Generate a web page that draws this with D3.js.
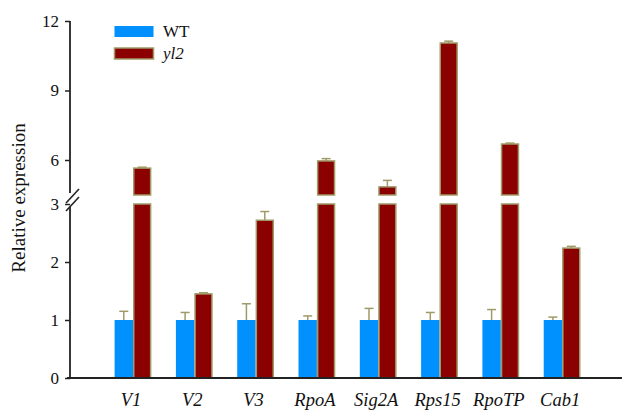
<!DOCTYPE html>
<html>
<head>
<meta charset="utf-8">
<script src="https://cdn.jsdelivr.net/npm/d3@7"></script>
<style>
  body { margin: 0; background: #fff; }
  text { font-family: "Liberation Serif", "Times New Roman", serif; fill: #111; }
</style>
</head>
<body>
<script>
// Gene names on the x axis
const genes = ["V1", "V2", "V3", "RpoA", "Sig2A", "Rps15", "RpoTP", "Cab1"];

// Mean relative expression and error (upper) for each line
const wtMean = [1, 1, 1, 1, 1, 1, 1, 1];
const wtErr = [0.15, 0.13, 0.28, 0.07, 0.20, 0.13, 0.18, 0.05];
const yl2Mean = [5.65, 1.45, 2.72, 5.96, 4.84, 11.05, 6.69, 2.24];
const yl2Err = [0.04, 0.02, 0.15, 0.10, 0.28, 0.08, 0.04, 0.03];

// Tick labels for the two parts of the broken axis
const lowTicks = [0, 1, 2, 3];
const highTicks = [6, 9, 12];

const series = ["WT", "yl2"];
const fills = { WT: "#0091ff", yl2: "#8b0000" };
const olive = "#a09a68";

const W = 623, H = 411;

const svg = d3.select("body").append("svg")
    .attr("width", W)
    .attr("height", H);

// Broken y axis: lower part 0-3, upper part 6-12
const yLow = d3.scaleLinear().domain([0, 3]).range([378, 204]);
const yHigh = d3.scaleLinear().domain([6, 12]).range([160, 21]);
const breakTop = 195;                    // pixel where the upper part stops

const x = d3.scaleBand().domain(genes)
    .range([102.35, 592.75])
    .paddingInner(0.4)
    .paddingOuter(0.2);
const xs = d3.scaleBand().domain(series).range([0, x.bandwidth()]);

// Build the rows for the bars
const rows = [];
genes.forEach((g, i) => {
    rows.push({ gene: g, s: "WT", v: wtMean[i], e: wtErr[i] });
    rows.push({ gene: g, s: "yl2", v: yl2Mean[i], e: yl2Err[i] });
});

// Split a value into drawable segments
const segments = (d) => {
    if (d.v <= 3) return [{ y0: yLow(0), y1: yLow(d.v) }];
    return [
        { y0: yLow(0), y1: yLow(3) },
        { y0: breakTop, y1: yHigh(d.v) }
    ];
};
const yOf = (v) => v <= 3 ? yLow(v) : yHigh(v);

// Error bars (drawn under the bars)
const eg = svg.append("g");
rows.forEach((d) => {
    const cx = x(d.gene) + xs(d.s) + xs.bandwidth() / 2;
    const top = yOf(d.v + d.e);
    eg.append("line")
        .attr("x1", cx).attr("x2", cx)
        .attr("y1", yOf(d.v)).attr("y2", top)
        .attr("stroke", olive).attr("stroke-width", 1.5);
    eg.append("line")
        .attr("x1", cx - 4.5).attr("x2", cx + 4.5)
        .attr("y1", top).attr("y2", top)
        .attr("stroke", olive).attr("stroke-width", 1.5);
});

// Bars
const bg = svg.append("g");
rows.forEach((d) => {
    segments(d).forEach((sg) => {
        bg.append("rect")
            .attr("x", x(d.gene) + xs(d.s) + (d.s === "yl2" ? 0.75 : 0))
            .attr("y", sg.y1)
            .attr("width", xs.bandwidth() - (d.s === "yl2" ? 1.5 : 0))
            .attr("height", sg.y0 - sg.y1)
            .attr("fill", fills[d.s])
            .attr("stroke", d.s === "yl2" ? olive : "none")
            .attr("stroke-width", 1.5);
    });
});

// Y axis, lower part
const axisColor = "#222";
const yAxisLow = svg.append("g")
    .attr("transform", "translate(70,0)")
    .call(d3.axisLeft(yLow).tickValues(lowTicks).tickSize(5).tickSizeOuter(0).tickFormat(d3.format("d")));
// Y axis, upper part
const yAxisHigh = svg.append("g")
    .attr("transform", "translate(70,0)")
    .call(d3.axisLeft(yHigh).tickValues(highTicks).tickSize(5).tickSizeOuter(0).tickFormat(d3.format("d")));

[yAxisLow, yAxisHigh].forEach((a) => {
    a.select(".domain").remove();
    a.selectAll(".tick line").attr("stroke", axisColor).attr("stroke-width", 1.5);
    a.selectAll(".tick text")
        .attr("x", -11)
        .style("font-family", "Liberation Serif, serif")
        .style("font-size", "17px")
        .attr("fill", "#111");
});

// axis line with a gap at the break
svg.append("line")
    .attr("x1", 70).attr("x2", 70)
    .attr("y1", yHigh(12)).attr("y2", 193)
    .attr("stroke", axisColor).attr("stroke-width", 1.8);
svg.append("line")
    .attr("x1", 70).attr("x2", 70)
    .attr("y1", 207).attr("y2", yLow(0))
    .attr("stroke", axisColor).attr("stroke-width", 1.8);
// break slashes
[[66, 203, 79, 189], [66, 211, 79, 197]].forEach((s) => {
    svg.append("line")
        .attr("x1", s[0]).attr("y1", s[1])
        .attr("x2", s[2]).attr("y2", s[3])
        .attr("stroke", axisColor).attr("stroke-width", 1.6);
});

// X axis
svg.append("line")
    .attr("x1", 67).attr("x2", 622)
    .attr("y1", yLow(0)).attr("y2", yLow(0))
    .attr("stroke", axisColor).attr("stroke-width", 1.8);

svg.append("g").selectAll("text")
    .data(genes)
    .join("text")
    .attr("x", (d) => x(d) + x.bandwidth() / 2 - 2)
    .attr("y", 406)
    .attr("text-anchor", "middle")
    .style("font-size", "18.5px")
    .style("font-style", "italic")
    .text((d) => d);

// Y axis title
svg.append("text")
    .attr("transform", "translate(25,198) rotate(-90)")
    .attr("text-anchor", "middle")
    .style("font-size", "19px")
    .text("Relative expression");

// Legend
const legend = svg.append("g");
series.forEach((s, i) => {
    legend.append("rect")
        .attr("x", 114.5).attr("y", 26 + i * 22)
        .attr("width", 39).attr("height", 11)
        .attr("fill", fills[s])
        .attr("stroke", s === "yl2" ? olive : "none")
        .attr("stroke-width", 1.5);
    legend.append("text")
        .attr("x", 163).attr("y", 37 + i * 22)
        .style("font-size", "17px")
        .style("font-style", s === "yl2" ? "italic" : "normal")
        .text(s);
});
</script>
</body>
</html>
